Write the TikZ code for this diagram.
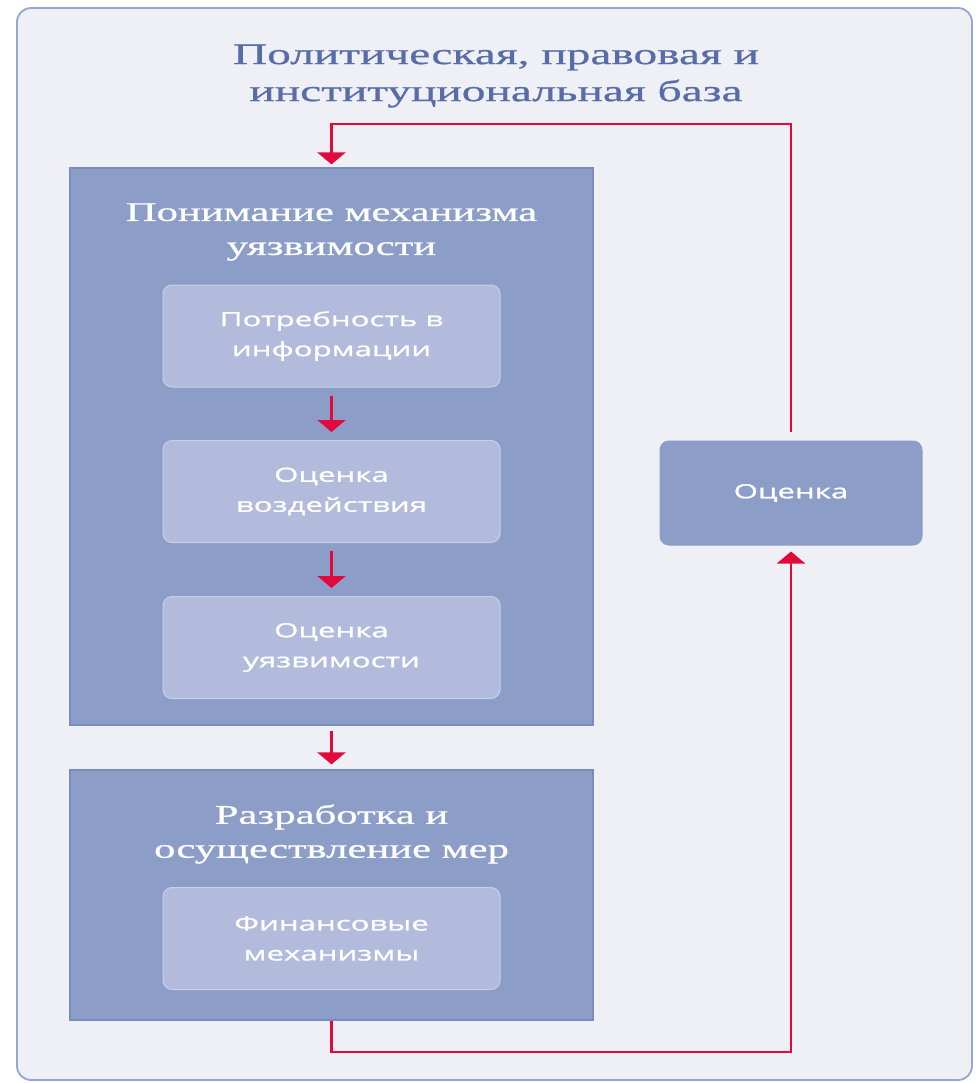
\documentclass[tikz,border=0pt]{standalone}
\usepackage{fontspec}
\setmainfont{Liberation Serif}[FakeStretch=1.58, FakeBold=0.8]
\newfontfamily\boxfont{Open Sans}[FakeStretch=1.6, FakeBold=1.2]
\usetikzlibrary{arrows.meta, positioning, calc}
\definecolor{pagecolor}{RGB}{239,240,246}
\definecolor{framecolor}{RGB}{150,166,208}
\definecolor{titlecolor}{RGB}{88,108,168}
\definecolor{stagecolor}{RGB}{140,157,200}
\definecolor{stageline}{RGB}{122,140,190}
\definecolor{stepcolor}{RGB}{178,187,220}
\definecolor{stepline}{RGB}{200,207,232}
\definecolor{flowred}{RGB}{226,10,60}

\begin{document}
\begin{tikzpicture}[
    x=1pt, y=-1pt,
    stage/.style={draw=stageline, line width=1.2pt, fill=stagecolor, minimum width=523pt, inner sep=0pt},
    stagetitle/.style={text=white, font=\fontsize{27}{34}\selectfont, align=center},
    stepbox/.style={draw=stepline, line width=1pt, fill=stepcolor, rounded corners=9pt, minimum width=337pt, minimum height=102pt, text=white, font=\boxfont\fontsize{19.5}{30}\selectfont, align=center, inner sep=0pt},
    flow/.style={-{Triangle[width=28pt, length=12pt]}, line width=2.6pt, draw=flowred}
]
    \useasboundingbox (0,0) rectangle (976,1083);
    % Frame and heading
    \node[draw=framecolor, line width=1.8pt, fill=pagecolor, rounded corners=14pt, minimum width=955pt, minimum height=1072pt, inner sep=0pt] (frame) at (494.5,544) {};
    \node[text=titlecolor, font=\fontsize{30}{37}\selectfont, align=center] (basis) at (496,76) {Политическая, правовая и\\институциональная база};

    % Stages
    \node[stage, minimum height=557pt] (understand) at (331.5,446.5) {};
    \node[stagetitle] (understandtitle) at (331.5,232) {Понимание механизма\\уязвимости};
    \node[stage, minimum height=250pt] (measures) at (331.5,895) {};
    \node[stagetitle] (measurestitle) at (331.5,834) {Разработка и\\осуществление мер};

    % Steps
    \node[stepbox] (info) at (331.5,336) {Потребность в\\информации};
    \node[stepbox] (impact) at (331.5,491.5) {Оценка\\воздействия};
    \node[stepbox] (vuln) at (331.5,647.5) {Оценка\\уязвимости};
    \node[stepbox] (finance) at (331.5,938.5) {Финансовые\\механизмы};
    \node[stepbox, fill=stagecolor, draw=stagecolor, minimum width=262pt, minimum height=104pt] (evaluation) at (791,493) {Оценка};

    % Flow
    \coordinate (toploop) at (560,124);
    \coordinate (bottomloop) at (560,1052);
    \draw[flow, shorten <=8pt, shorten >=8pt] (info) -- (impact);
    \draw[flow, shorten <=8pt, shorten >=8pt] (impact) -- (vuln);
    \draw[flow, shorten <=5pt, shorten >=5pt] (understand) -- (measures);
    \draw[flow, shorten <=9pt, shorten >=3pt] (evaluation.north) |- (toploop) -| (understand.north);
    \draw[flow, shorten >=6pt] (measures.south) |- (bottomloop) -| (evaluation.south);
\end{tikzpicture}
\end{document}
